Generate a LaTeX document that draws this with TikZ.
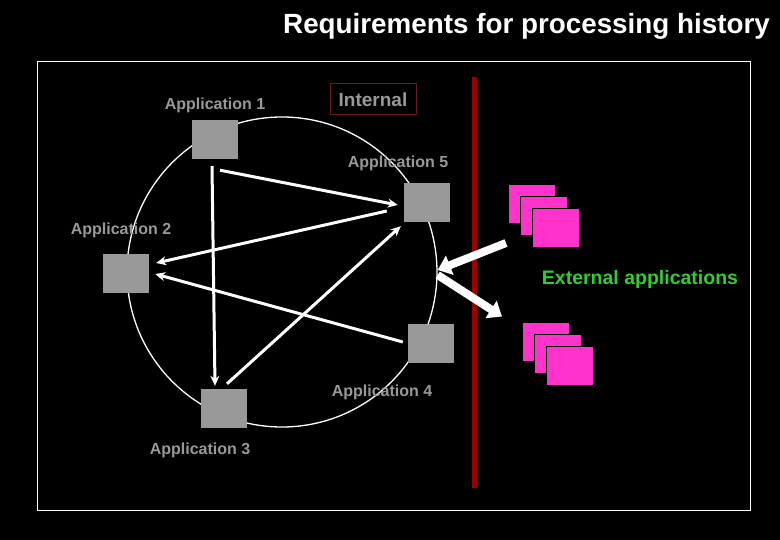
\documentclass[tikz,border=0pt]{standalone}
\usepackage{fontspec}
\setmainfont{Liberation Sans}
\usepackage{xcolor}
\usetikzlibrary{arrows.meta}

\definecolor{appgray}{HTML}{999999}
\definecolor{linered}{HTML}{990000}
\definecolor{boxred}{HTML}{6E1818}
\definecolor{extpink}{HTML}{FF33CC}
\definecolor{extgreen}{HTML}{33CC33}

\begin{document}
\begin{tikzpicture}[x=1pt,y=-1pt,
	app/.style={fill=appgray,minimum width=46pt,minimum height=39pt,inner sep=0pt},
	ext/.style={fill=extpink,draw=black,line width=1pt,minimum width=47pt,minimum height=39pt,inner sep=0pt},
	lbl/.style={text=appgray,anchor=base,inner sep=0pt,font=\bfseries\fontsize{16}{18}\selectfont},
	flow/.style={white,line width=3pt,-{Stealth[length=10pt,width=9pt]}},
	bigflow/.style={white,line width=8pt,-{Triangle[length=13pt,width=20pt]}}]

	\fill[black] (0,0) rectangle (780,540);
	\node[white,anchor=base,inner sep=0pt,font=\bfseries\fontsize{27.8}{30}\selectfont] (title) at (526.5,34) {Requirements for processing history};
	\draw[white,line width=0.8pt] (37,61) rectangle (750,510);

	\node[circle,draw=white,line width=1.3pt,minimum size=310pt,inner sep=0pt] (ring) at (282,272) {};

	\node[app] (app1) at (215,139.5) {};
	\node[app] (app5) at (427,202.5) {};
	\node[app] (app2) at (126,273.5) {};
	\node[app] (app4) at (431,343.5) {};
	\node[app] (app3) at (224,408.5) {};

	\node[lbl] (lab1) at (215,110) {Application 1};
	\node[lbl] (lab5) at (398,168) {Application 5};
	\node[lbl] (lab2) at (121,235) {Application 2};
	\node[lbl] (lab4) at (382,396) {Application 4};
	\node[lbl] (lab3) at (200,454) {Application 3};

	\node[draw=boxred,line width=1pt,text=appgray,minimum width=86pt,minimum height=31pt,inner sep=0pt,font=\bfseries\fontsize{19}{21}\selectfont] (internal) at (373,99.5) {Internal};

	\draw[flow] ([shift={(5,11)}]app1.south) -- ([shift={(-6,2.5)}]app5.west);
	\draw[flow] ([shift={(-3,7)}]app1.south) -- ([shift={(-9,-3)}]app3.north);
	\draw[flow] ([shift={(-17,8.5)}]app5.west) -- ([shift={(7,-10.5)}]app2.east);
	\draw[flow] ([shift={(-5,-1.5)}]app4.west) -- ([shift={(6,0.5)}]app2.east);
	\draw[flow] ([shift={(3,-5)}]app3.north) -- ([shift={(-3,4)}]app5.south west);

	\draw[linered,line width=5pt] (474,77) -- (474,488);

	\node[ext] (ext1a) at (532,204) {};
	\node[ext] (ext1b) at ([shift={(12,12)}]ext1a) {};
	\node[ext] (ext1c) at ([shift={(12,12)}]ext1b) {};
	\node[ext] (ext2a) at (546,342.5) {};
	\node[ext] (ext2b) at ([shift={(12,12)}]ext2a) {};
	\node[ext] (ext2c) at ([shift={(12,12)}]ext2b) {};

	\draw[bigflow] ([shift={(-26,-5)}]ext1c.south west) -- ([shift={(0,-2)}]ring.east);
	\draw[bigflow] ([shift={(0,3)}]ring.east) -- ([shift={(-20,-6)}]ext2a.north west);

	\node[text=extgreen,anchor=base,inner sep=0pt,font=\bfseries\fontsize{19.5}{21}\selectfont] (external) at (640,285) {External applications};

\end{tikzpicture}
\end{document}
